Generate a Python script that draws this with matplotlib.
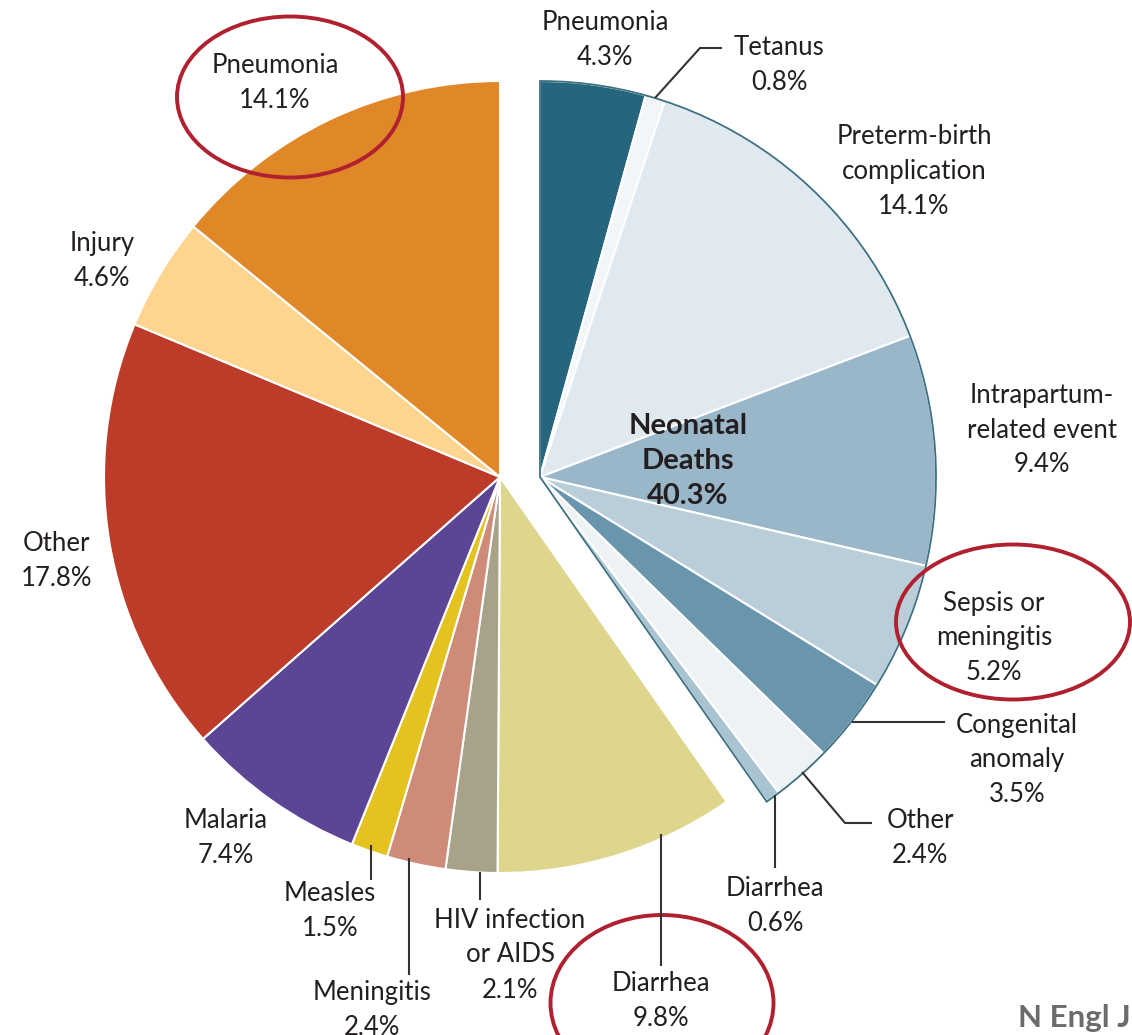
import matplotlib
matplotlib.use("Agg")
import matplotlib.pyplot as plt
from matplotlib.patches import Wedge, Ellipse
import numpy as np

W, H = 1132, 1035

# neonatal deaths (exploded group), clockwise from 12 o'clock
neo_labels = ["Pneumonia\n4.3%", "Tetanus\n0.8%", "Preterm-birth\ncomplication\n14.1%",
              "Intrapartum-\nrelated event\n9.4%", "Sepsis or\nmeningitis\n5.2%",
              "Congenital\nanomaly\n3.5%", "Other\n2.4%", "Diarrhea\n0.6%"]
neo_values = [4.3, 0.8, 14.1, 9.4, 5.2, 3.5, 2.4, 0.6]
neo_colors = ["#25667e", "#f2f6f9", "#e0e9f0", "#99b7c8", "#baced9",
              "#6996ad", "#edf2f5", "#a9c3d0"]

# remaining causes (children 1-59 months), continuing clockwise
main_labels = ["Diarrhea\n9.8%", "HIV infection\nor AIDS\n2.1%", "Meningitis\n2.4%",
               "Measles\n1.5%", "Malaria\n7.4%", "Other\n17.8%", "Injury\n4.6%",
               "Pneumonia\n14.1%"]
main_values = [9.8, 2.1, 2.4, 1.5, 7.4, 17.8, 4.6, 14.1]
main_colors = ["#ded68d", "#a8a28a", "#ce8b78", "#e4c21f", "#5d4596",
               "#bc3b29", "#fdd58e", "#e08728"]

# label positions in pixels (x, y from top)
neo_pos = [(605, 40), (779, 65), (914, 172), (1042, 430), (994, 638),
           (1017, 760), (920, 838), (775, 906)]
main_pos = [(661, 1001), (510, 955), (372, 1010), (330, 911), (226, 838),
            (57, 561), (102, 261), (275, 83)]

def P(x, y):
    return (x, H - y)

fig = plt.figure(figsize=(W / 100, H / 100), dpi=100)
ax = fig.add_axes([0, 0, 1, 1])
plt.rcParams['font.family'] = ['Lato', 'DejaVu Sans']

r = 396
c_main = P(500, 477)
c_neo = P(540, 477)
total = sum(neo_values) + sum(main_values)

ax.pie(np.array(neo_values) / total, colors=neo_colors, startangle=90, counterclock=False,
       center=c_neo, radius=r, normalize=False, frame=True,
       wedgeprops=dict(edgecolor="white", linewidth=1.5))
ax.pie(np.array(main_values) / total, colors=main_colors,
       startangle=90 - 360 * sum(neo_values) / total, counterclock=False,
       center=c_main, radius=r, normalize=False, frame=True,
       wedgeprops=dict(edgecolor="white", linewidth=1.5))

# outline around neonatal group
ax.add_patch(Wedge(c_neo, r, 90 - 360 * sum(neo_values) / total, 90,
                   fill=False, edgecolor="#3c7083", linewidth=1.3))

txt = "#231f20"
fs = 18.5
for lab, (x, y) in zip(neo_labels + main_labels, neo_pos + main_pos):
    ax.text(*P(x, y), lab, ha="center", va="center", fontsize=fs, color=txt,
            linespacing=1.5)

ax.text(*P(688, 461), "Neonatal\nDeaths\n40.3%", ha="center", va="center",
        fontsize=21, fontweight="bold", color=txt, linespacing=1.42)

# leader lines
leaders = [
    [(655, 98), (700, 48), (722, 48)],
    [(852, 722), (945, 722)],
    [(802, 772), (845, 823), (872, 823)],
    [(775, 795), (775, 868)],
    [(661, 834), (661, 966)],
    [(480, 872), (480, 900)],
    [(409, 858), (409, 975)],
    [(371, 845), (371, 880)],
]
for pts in leaders:
    xs = [p[0] for p in pts]
    ys = [H - p[1] for p in pts]
    ax.plot(xs, ys, color="#333333", linewidth=1.5, solid_capstyle="butt")

# highlight ellipses
for (x, y, w, h) in [(290, 97, 226, 161), (1013, 622, 234, 155), (662, 1003, 223, 176)]:
    ax.add_patch(Ellipse(P(x, y), w, h, fill=False, edgecolor="#b0202e", linewidth=2.8))

ax.text(*P(1018, 1018), "N Engl J", ha="left", va="center", fontsize=22.5,
        fontweight="bold", color="#6b6b6b")

ax.set_xlim(0, W)
ax.set_ylim(0, H)
ax.set_aspect("equal")
ax.axis("off")

fig.savefig("out.png", dpi=100)
